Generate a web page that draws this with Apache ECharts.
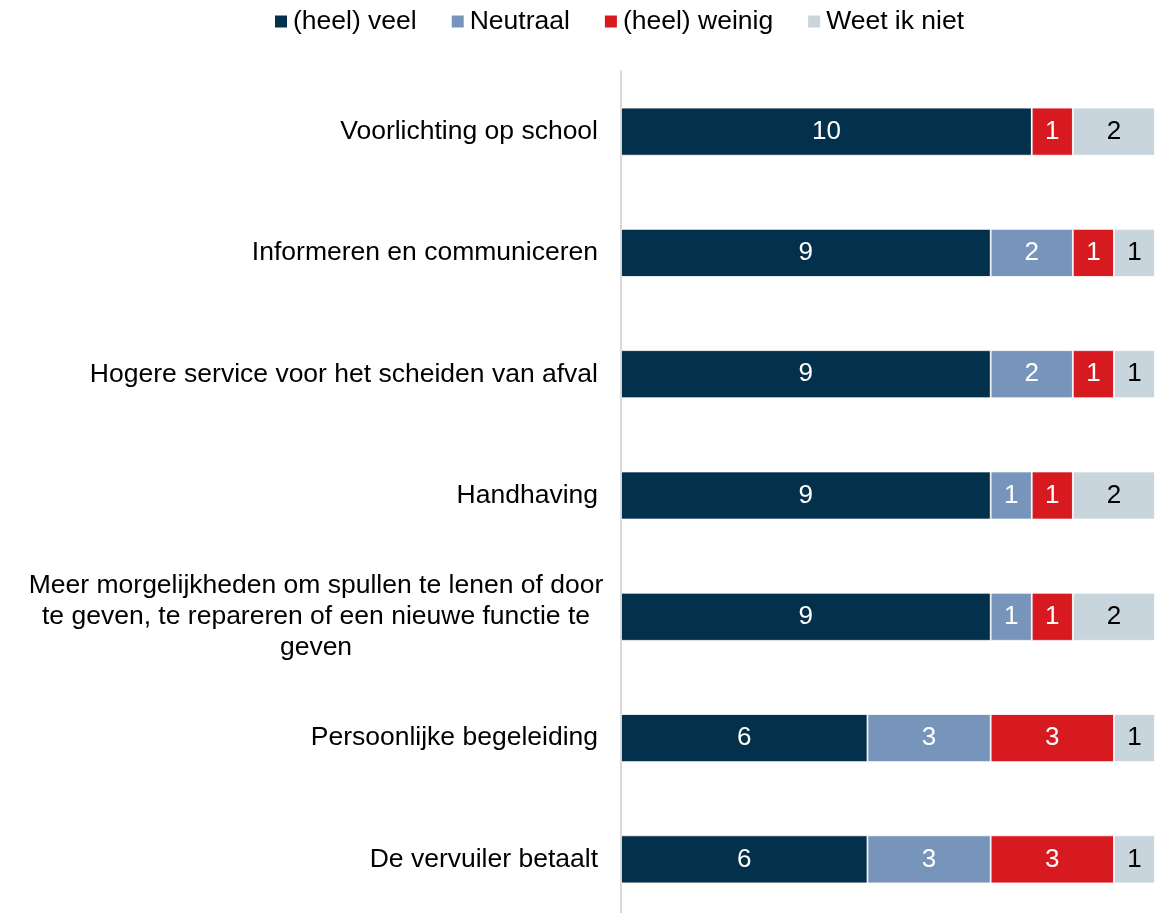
<!DOCTYPE html>
<html>
<head>
<meta charset="utf-8">
<script src="https://cdn.jsdelivr.net/npm/echarts@6/dist/echarts.min.js"></script>
<style>
html,body{margin:0;padding:0;background:#fff;}
#chart{width:1155px;height:913px;}
</style>
</head>
<body>
<div id="chart"></div>
<script>
const categories = [
  "Voorlichting op school",
  "Informeren en communiceren",
  "Hogere service voor het scheiden van afval",
  "Handhaving",
  "Meer morgelijkheden om spullen te lenen of door\nte geven, te repareren of een nieuwe functie te\ngeven",
  "Persoonlijke begeleiding",
  "De vervuiler betaalt"
];
const seriesNames = ["(heel) veel", "Neutraal", "(heel) weinig", "Weet ik niet"];
const veel    = [10, 9, 9, 9, 9, 6, 6];
const neutraal = [0, 2, 2, 1, 1, 3, 3];
const weinig  = [1, 1, 1, 1, 1, 3, 3];
const weetNiet = [2, 1, 1, 2, 2, 1, 1];
const colors = ["#03304A", "#7795BA", "#D71920", "#C8D5DC"];
const labelColors = ["#ffffff", "#ffffff", "#ffffff", "#000000"];

const FONT = "'Liberation Sans', Arial, sans-serif";
const FS = 26.5;

const values = [veel, neutraal, weinig, weetNiet];
const chart = echarts.init(document.getElementById('chart'), null, {renderer: 'canvas'});

chart.setOption({
  animation: false,
  backgroundColor: '#ffffff',
  textStyle: {fontFamily: FONT},
  legend: {
    top: 3,
    left: 268,
    itemWidth: 14,
    itemHeight: 14,
    itemGap: 33,
    icon: 'rect',
    textStyle: {fontFamily: FONT, fontSize: FS, color: '#000000'},
    data: seriesNames
  },
  grid: {left: 621, right: 0, top: 71, height: 849, containLabel: false, outerBoundsMode: 'none'},
  xAxis: {
    type: 'value',
    min: 0,
    max: 13,
    show: false
  },
  yAxis: {
    type: 'category',
    inverse: true,
    data: categories,
    axisLine: {show: true, lineStyle: {color: '#D9D9D9', width: 2}},
    axisTick: {show: false},
    splitLine: {show: false},
    axisLabel: {
      margin: 14,
      color: '#000000',
      fontFamily: FONT,
      fontSize: FS,
      formatter: function (v) {
        if (v.indexOf('\n') >= 0) {
          return v.split('\n').map(function (s) { return '{c|' + s + '}'; }).join('\n');
        }
        return '{r|' + v + '}';
      },
      rich: {
        c: {width: 582, align: 'center', fontFamily: FONT, fontSize: FS, lineHeight: 31, color: '#000000'},
        r: {padding: [0, 9, 0, 0], fontFamily: FONT, fontSize: FS, color: '#000000'}
      }
    }
  },
  series: seriesNames.map(function (name, i) {
    return {
      name: name,
      type: 'bar',
      stack: 'total',
      barWidth: 48,
      data: values[i],
      itemStyle: {color: colors[i], borderColor: '#ffffff', borderWidth: 0.8},
      label: {
        show: true,
        position: 'inside',
        fontFamily: FONT,
        fontSize: 26,
        color: labelColors[i],
        formatter: function (p) { return p.value > 0 ? String(p.value) : ''; }
      }
    };
  })
});
</script>
</body>
</html>
